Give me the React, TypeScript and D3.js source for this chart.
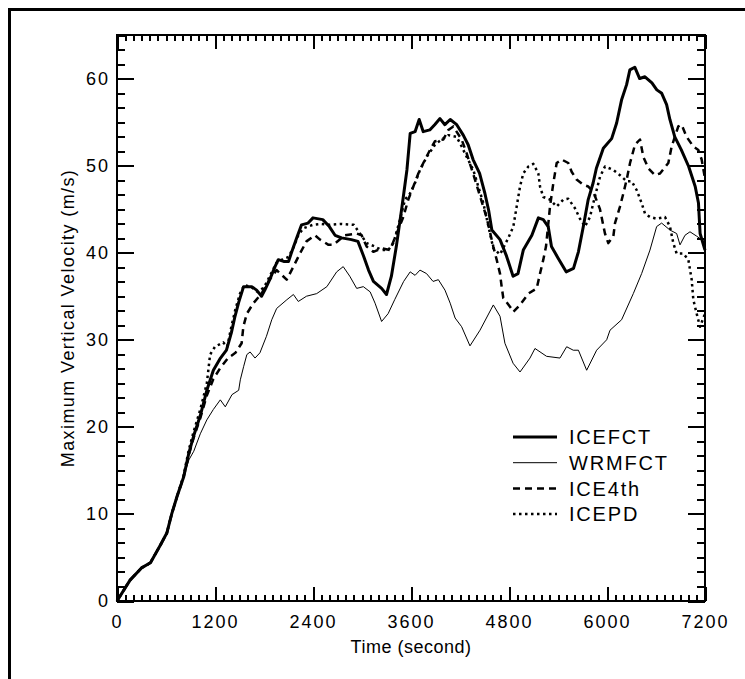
import React, { useEffect, useRef } from "react";
import * as d3 from "d3";

// series: [time (s), max vertical velocity (m/s)]
const icefct: [number, number][] = [
  [0, 0], [160, 2.4], [300, 3.8], [410, 4.4], [530, 6.4], [610, 7.8], [670, 10], [735, 12],
  [815, 14.2], [880, 17], [940, 19], [1020, 21.3], [1100, 24.2], [1180, 26.5], [1260, 27.8],
  [1340, 28.8], [1400, 30.8], [1445, 32.7], [1490, 34.3], [1550, 36.1], [1650, 36.1],
  [1710, 35.7], [1770, 35], [1810, 35.7], [1870, 36.9], [1935, 38.4], [1975, 39.2], [2040, 39],
  [2100, 39], [2140, 40.1], [2200, 41.7], [2260, 43.2], [2340, 43.4], [2400, 44], [2520, 43.8],
  [2600, 43], [2670, 42], [2750, 41.7], [2870, 41.5], [2950, 41.3], [3020, 39.6], [3080, 38],
  [3140, 36.7], [3240, 35.9], [3300, 35.2], [3360, 37.3], [3420, 40.7], [3490, 45.3],
  [3550, 49.5], [3590, 53.7], [3650, 53.9], [3700, 55.3], [3750, 53.9], [3830, 54.1],
  [3890, 54.7], [3955, 55.4], [4015, 54.7], [4080, 55.3], [4160, 54.7], [4240, 53.5],
  [4300, 52.4], [4360, 50.7], [4440, 49.1], [4505, 46.8], [4550, 44.9], [4590, 42.6],
  [4690, 41.5], [4770, 39.6], [4850, 37.3], [4910, 37.6], [4975, 40.3], [5080, 42], [5160, 44],
  [5220, 43.8], [5280, 43], [5320, 40.7], [5400, 39.4], [5500, 37.8], [5590, 38.2],
  [5650, 40.1], [5710, 43], [5770, 46.1], [5830, 48], [5870, 49.7], [5955, 52], [6057, 53.1],
  [6118, 54.9], [6180, 57.6], [6240, 59.3], [6280, 61], [6340, 61.3], [6400, 60], [6465, 60.2],
  [6550, 59.5], [6610, 58.7], [6670, 58.3], [6730, 57], [6770, 55.3], [6830, 53.3],
  [6910, 51.8], [7000, 49.9], [7080, 47.6], [7120, 45.7], [7140, 42.2], [7200, 40.3],
];

const wrmfct: [number, number][] = [
  [0, 0], [160, 2.4], [300, 3.8], [410, 4.4], [530, 6.4], [610, 7.8], [670, 10], [735, 12],
  [815, 14.2], [880, 16.2], [940, 17.2], [1020, 19.2], [1100, 20.8], [1180, 22], [1265, 23.1],
  [1326, 22.3], [1408, 23.7], [1490, 24.2], [1510, 25.4], [1550, 26.9], [1590, 28.3],
  [1630, 28.6], [1690, 27.9], [1750, 28.5], [1830, 30.4], [1895, 32.3], [1955, 33.6],
  [2080, 34.6], [2160, 35.2], [2220, 34.4], [2320, 35], [2445, 35.3], [2570, 36.1],
  [2690, 37.8], [2770, 38.4], [2850, 37.3], [2935, 35.9], [3016, 36.1], [3100, 35.5],
  [3160, 34.2], [3240, 32.1], [3320, 33], [3400, 34.6], [3510, 36.7], [3590, 37.8],
  [3650, 37.4], [3710, 38], [3790, 37.6], [3870, 36.7], [3935, 36.9], [4016, 35.7],
  [4080, 34.2], [4140, 32.5], [4220, 31.5], [4322, 29.3], [4445, 31.1], [4608, 34],
  [4690, 32.7], [4750, 29.6], [4850, 27.3], [4935, 26.3], [5057, 27.9], [5118, 29],
  [5260, 28.1], [5424, 27.9], [5506, 29.2], [5587, 28.8], [5650, 28.8], [5751, 26.5],
  [5873, 28.8], [5996, 30], [6037, 31.1], [6179, 32.3], [6322, 35.3], [6424, 37.6],
  [6526, 40.3], [6608, 43], [6669, 43.4], [6771, 42.6], [6853, 42.2], [6894, 40.9],
  [6955, 42], [7016, 42.4], [7098, 41.9], [7200, 41.2],
];

const ice4th: [number, number][] = [
  [0, 0], [160, 2.4], [300, 3.8], [410, 4.4], [530, 6.4], [610, 7.8], [670, 10], [735, 12],
  [815, 14.2], [880, 16.8], [940, 18.8], [1020, 21], [1100, 23.6], [1180, 25.5], [1260, 26.7],
  [1360, 27.9], [1450, 28.5], [1526, 29.6], [1547, 31.5], [1590, 33], [1670, 34.2],
  [1770, 35.3], [1860, 36.8], [1955, 38], [2078, 36.9], [2160, 38.4], [2240, 39.9],
  [2320, 41.3], [2424, 42], [2486, 41.5], [2590, 40.9], [2650, 40.9], [2790, 42], [2935, 42.2],
  [2996, 42], [3057, 40.7], [3139, 40.1], [3241, 40.5], [3343, 40.3], [3424, 42.2],
  [3506, 44.1], [3567, 46.1], [3629, 47.6], [3690, 49.1], [3751, 50.3], [3833, 51.8],
  [3894, 52.8], [3996, 53], [4057, 54.1], [4118, 54.5], [4220, 53], [4282, 51.4], [4363, 49],
  [4445, 46.5], [4527, 44], [4608, 40.7], [4649, 39.2], [4690, 37.6], [4710, 36.1],
  [4730, 34.8], [4812, 33.8], [4853, 33.2], [4935, 34], [5037, 35.3], [5139, 35.9],
  [5180, 37.6], [5220, 39.2], [5253, 40.7], [5282, 43.4], [5302, 45.3], [5343, 48],
  [5384, 50.3], [5445, 50.7], [5526, 50.3], [5567, 49.3], [5628, 48.4], [5710, 47.8],
  [5771, 47.6], [5832, 47], [5914, 45], [5975, 42.2], [6016, 41.1], [6078, 41.9], [6098, 43.4],
  [6159, 45.3], [6200, 46.8], [6241, 48.4], [6282, 50.3], [6343, 52.4], [6404, 53], [6445, 51],
  [6506, 49.7], [6588, 48.9], [6649, 49.1], [6751, 50.3], [6792, 52.2], [6873, 54.5],
  [6914, 54.7], [6975, 53.3], [7057, 52.2], [7118, 51.8], [7159, 50.7], [7200, 48.5],
];

const icepd: [number, number][] = [
  [0, 0], [160, 2.4], [300, 3.8], [410, 4.4], [530, 6.4], [610, 7.8], [670, 10], [735, 12],
  [815, 14.4], [880, 17.4], [940, 19.5], [1020, 22], [1100, 25], [1140, 28.3], [1200, 29.2],
  [1300, 29.7], [1350, 29.2], [1400, 31.5], [1450, 33.5], [1506, 35.3], [1560, 36.3],
  [1650, 36], [1720, 35.5], [1800, 36], [1870, 37.3], [1950, 38.8], [2040, 39.3], [2100, 39.5],
  [2160, 40.6], [2220, 42], [2280, 42.8], [2400, 43.2], [2500, 43.3], [2600, 43.2],
  [2750, 43.3], [2900, 43.2], [2975, 42.2], [3057, 41.1], [3159, 40.7], [3241, 40.3],
  [3322, 40.3], [3384, 41.1], [3465, 43.8], [3527, 46.1], [3588, 46.8], [3649, 48],
  [3710, 49.5], [3792, 51], [3894, 52.4], [3975, 53], [4057, 53.5], [4159, 53.3], [4220, 52.2],
  [4282, 51], [4363, 49.5], [4424, 47.6], [4486, 45.7], [4567, 42.2], [4608, 40.5],
  [4690, 39.8], [4792, 41.7], [4853, 43], [4894, 45.3], [4935, 47.6], [4975, 49.1],
  [5037, 49.9], [5098, 50.2], [5159, 49.1], [5180, 47.6], [5220, 46.4], [5302, 46.1],
  [5384, 45.3], [5465, 46.1], [5526, 46.2], [5608, 45.1], [5669, 43.9], [5730, 43],
  [5792, 44.1], [5832, 45.7], [5873, 47.2], [5914, 48.7], [5975, 49.9], [6078, 49.5],
  [6159, 48.9], [6241, 48.2], [6302, 48.2], [6363, 47.2], [6424, 45.7], [6465, 44.5],
  [6526, 44.1], [6608, 43.9], [6710, 44.1], [6771, 43], [6812, 41.1], [6853, 39.9],
  [6935, 39.9], [6996, 39.2], [7037, 36.9], [7057, 34.6], [7098, 33], [7139, 31.5], [7200, 33],
];

const xTicks = [0, 1200, 2400, 3600, 4800, 6000, 7200];
const yTicks = [0, 10, 20, 30, 40, 50, 60];
const seriesNames = ["ICEFCT", "WRMFCT", "ICE4th", "ICEPD"];

const FONT = "'Liberation Sans', Arial, sans-serif";

const App = () => {
  const svgRef = useRef<SVGSVGElement>(null);

  useEffect(() => {
    const svg = d3.select(svgRef.current);
    svg.selectAll("*").remove();

    const left = 117, right = 705, top = 35, bottom = 601;

    // outer frame of the figure (runs off the right and bottom edges)
    svg.append("rect")
      .attr("x", 9.5).attr("y", 9.5).attr("width", 800).attr("height", 800)
      .attr("fill", "none").attr("stroke", "#000").attr("stroke-width", 3);

    const x = d3.scaleLinear().domain([0, 7200]).range([left, right]);
    const y = d3.scaleLinear().domain([0, 65]).range([bottom, top]);

    const xMinor = d3.range(0, 7201, 100);
    const yMinor = d3.range(0, 66, 10 / 6).filter((v) => v <= 65.01);

    const styleAxis = (g: any) => {
      g.attr("font-family", FONT).attr("font-size", 18);
      g.select(".domain").remove();
      g.selectAll("line").attr("stroke", "#000").attr("stroke-width", 2)
        .attr("shape-rendering", "crispEdges");
      g.selectAll("text").attr("fill", "#000").attr("letter-spacing", 2);
    };

    // minor ticks on all four sides
    svg.append("g").attr("transform", `translate(0,${bottom})`)
      .call(d3.axisBottom(x).tickValues(xMinor).tickSize(-6).tickSizeOuter(0).tickFormat(() => ""))
      .call(styleAxis);
    svg.append("g").attr("transform", `translate(0,${top})`)
      .call(d3.axisTop(x).tickValues(xMinor).tickSize(-6).tickSizeOuter(0).tickFormat(() => ""))
      .call(styleAxis);
    svg.append("g").attr("transform", `translate(${left},0)`)
      .call(d3.axisLeft(y).tickValues(yMinor).tickSize(-8).tickSizeOuter(0).tickFormat(() => ""))
      .call(styleAxis);
    svg.append("g").attr("transform", `translate(${right},0)`)
      .call(d3.axisRight(y).tickValues(yMinor).tickSize(-8).tickSizeOuter(0).tickFormat(() => ""))
      .call(styleAxis);

    // major ticks with labels
    svg.append("g").attr("transform", `translate(0,${bottom})`)
      .call(d3.axisBottom(x).tickValues(xTicks).tickSize(-14).tickSizeOuter(0).tickPadding(14).tickFormat(d3.format("d")))
      .call(styleAxis);
    svg.append("g").attr("transform", `translate(0,${top})`)
      .call(d3.axisTop(x).tickValues(xTicks).tickSize(-14).tickSizeOuter(0).tickFormat(() => ""))
      .call(styleAxis);
    svg.append("g").attr("transform", `translate(${left},0)`)
      .call(d3.axisLeft(y).tickValues(yTicks).tickSize(-17).tickSizeOuter(0).tickPadding(7).tickFormat(d3.format("d")))
      .call(styleAxis);
    svg.append("g").attr("transform", `translate(${right},0)`)
      .call(d3.axisRight(y).tickValues(yTicks).tickSize(-17).tickSizeOuter(0).tickFormat(() => ""))
      .call(styleAxis);

    // plot frame
    svg.append("rect")
      .attr("x", left).attr("y", top).attr("width", right - left).attr("height", bottom - top)
      .attr("fill", "none").attr("stroke", "#000").attr("stroke-width", 2)
      .attr("shape-rendering", "crispEdges");

    const line = d3.line<[number, number]>().x((d) => x(d[0])).y((d) => y(d[1]));

    const styles = [
      { data: icefct, width: 3, dash: null },
      { data: wrmfct, width: 1, dash: null },
      { data: ice4th, width: 2.5, dash: "7,5" },
      { data: icepd, width: 2.5, dash: "2.5,3.5" },
    ];

    styles.forEach((s) => {
      svg.append("path")
        .datum(s.data)
        .attr("d", line)
        .attr("fill", "none")
        .attr("stroke", "#000")
        .attr("stroke-width", s.width)
        .attr("stroke-linejoin", "round")
        .attr("stroke-dasharray", s.dash);
    });

    // legend
    const legend = svg.append("g").attr("font-family", FONT).attr("font-size", 20);
    seriesNames.forEach((name, i) => {
      const ly = 437 + i * 25.7;
      legend.append("line")
        .attr("x1", 513).attr("x2", 557).attr("y1", ly).attr("y2", ly)
        .attr("stroke", "#000")
        .attr("stroke-width", styles[i].width)
        .attr("stroke-dasharray", styles[i].dash);
      legend.append("text")
        .attr("x", 569).attr("y", ly).attr("dy", "0.36em")
        .attr("letter-spacing", 1.8)
        .text(name);
    });

    // axis titles
    svg.append("text")
      .attr("x", (left + right) / 2).attr("y", 653)
      .attr("text-anchor", "middle")
      .attr("font-family", FONT).attr("font-size", 18).attr("letter-spacing", 0.5)
      .text("Time (second)");

    svg.append("text")
      .attr("transform", "rotate(-90)")
      .attr("x", -(top + bottom) / 2).attr("y", 74)
      .attr("text-anchor", "middle")
      .attr("font-family", FONT).attr("font-size", 18).attr("letter-spacing", 1.4)
      .text("Maximum Vertical Velocity (m/s)");
  }, []);

  return (
    <div>
      <svg
        ref={svgRef}
        width={745}
        height={679}
        style={{ position: "absolute", left: 0, top: 0, background: "#fff" }}
      ></svg>
    </div>
  );
};

export default App;
